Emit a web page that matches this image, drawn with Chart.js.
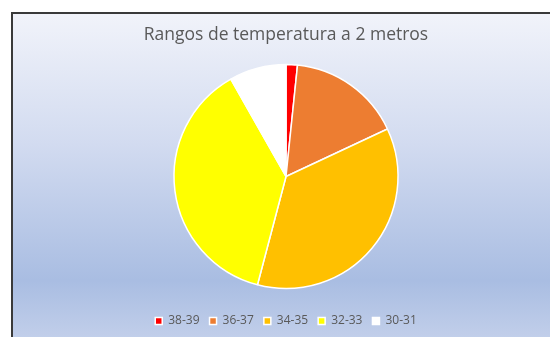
<!DOCTYPE html>
<html>
<head>
<meta charset="utf-8">
<script src="https://cdn.jsdelivr.net/npm/chart.js@4/dist/chart.umd.min.js"></script>
<style>
  html, body { margin: 0; padding: 0; background: #fff; width: 550px; height: 337px; overflow: hidden; }
  #frame {
    position: absolute; left: 11px; top: 12px;
    width: 538px; height: 325px;
    border-left: 2px solid #3a3a3a; border-top: 2px solid #3a3a3a;
    background: linear-gradient(to bottom, #f1f3fa 0%, #d2dbf0 40%, #a9bde2 82%, #c2cfea 100%);
  }
  #wrap { position: absolute; left: 0; top: 0; width: 536px; height: 323px; }
</style>
</head>
<body>
<div id="frame"><div id="wrap"><canvas id="chart"></canvas></div></div>
<script>
// rangos de temperatura (°C) y número de registros en cada uno
const rangos = ['38-39', '36-37', '34-35', '32-33', '30-31'];
const registros = [1, 10, 22, 23, 5];
const colores = ['#ff0000', '#ed7d31', '#ffc000', '#ffff00', '#ffffff'];

const ctx = document.getElementById('chart').getContext('2d');
const myChart = new Chart(ctx, {
  type: 'pie',
  data: {
    labels: rangos,
    datasets: [{
      data: registros,
      backgroundColor: colores,
      borderColor: '#ffffff',
      borderWidth: 1.5,
      radius: 112
    }]
  },
  options: {
    responsive: true,
    maintainAspectRatio: false,
    animation: false,
    layout: { padding: { left: 10, right: 0, top: 0, bottom: 0 } },
    plugins: {
      title: {
        display: true,
        text: 'Rangos de temperatura a 2 metros',
        color: '#595959',
        font: { family: 'Open Sans', size: 17.5, weight: 'normal' },
        padding: { top: 11, bottom: 2 }
      },
      legend: {
        position: 'bottom',
        labels: {
          color: '#595959',
          font: { family: 'Open Sans', size: 12 },
          boxWidth: 7,
          boxHeight: 7,
          padding: 10
        }
      },
      tooltip: { enabled: false }
    }
  }
});
</script>
</body>
</html>
